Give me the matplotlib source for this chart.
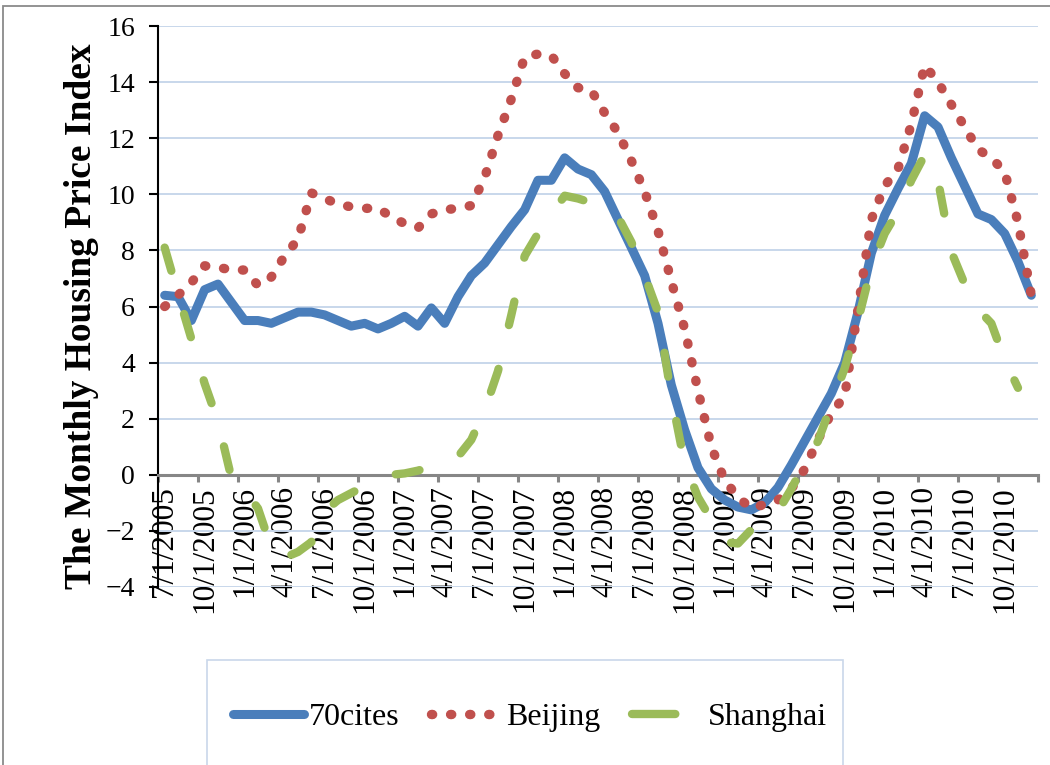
import numpy as np
import matplotlib.pyplot as plt
from matplotlib.patches import Rectangle
from matplotlib.lines import Line2D

# category tick labels (every 3rd month)
tick_labels = ["7/1/2005", "10/1/2005", "1/1/2006", "4/1/2006", "7/1/2006", "10/1/2006",
               "1/1/2007", "4/1/2007", "7/1/2007", "10/1/2007", "1/1/2008", "4/1/2008",
               "7/1/2008", "10/1/2008", "1/1/2009", "4/1/2009", "7/1/2009", "10/1/2009",
               "1/1/2010", "4/1/2010", "7/1/2010", "10/1/2010"]

# monthly values, 7/2005 .. 12/2010
cities70 = [6.4, 6.35, 5.5, 6.6, 6.8, 6.15, 5.5, 5.5, 5.4, 5.6,
            5.8, 5.8, 5.7, 5.5, 5.3, 5.4, 5.2, 5.4, 5.65, 5.3,
            5.95, 5.4, 6.35, 7.1, 7.55, 8.2, 8.85, 9.45, 10.5, 10.5,
            11.3, 10.9, 10.7, 10.1, 9.1, 8.1, 7.1, 5.4, 3.2, 1.6,
            0.25, -0.5, -0.9, -1.15, -1.25, -1.0, -0.45, 0.35, 1.2, 2.05,
            2.9, 4.0, 5.8, 7.9, 9.25, 10.2, 11.1, 12.8, 12.4, 11.3,
            10.3, 9.3, 9.1, 8.6, 7.6, 6.4]

beijing = [6.0, 6.4, 6.85, 7.45, 7.4, 7.3, 7.3, 6.75, 7.05, 7.8,
           8.4, 10.05, 9.85, 9.65, 9.55, 9.5, 9.5, 9.2, 8.95, 8.8,
           9.3, 9.45, 9.5, 9.6, 10.6, 12.1, 13.4, 14.9, 15.0, 14.95,
           14.3, 13.8, 13.7, 12.9, 12.2, 11.2, 10.1, 8.7, 6.9, 5.2,
           3.0, 1.0, -0.2, -0.8, -1.2, -1.05, -0.9, -0.5, 0.2, 1.25,
           2.2, 2.8, 5.9, 9.1, 10.3, 10.9, 12.5, 14.6, 14.0, 13.2,
           12.4, 11.6, 11.3, 10.8, 9.0, 6.4]

shanghai = [8.1, 6.45, 4.85, 3.25, 1.9, -0.1, -0.55, -1.2, -2.6, -2.95,
            -2.75, -2.4, -1.3, -0.9, -0.65, -0.4, -0.2, 0.0, 0.05, 0.15,
            0.3, 0.45, 0.65, 1.25, 2.3, 3.7, 5.7, 7.8, 8.6, 9.3,
            9.95, 9.85, 9.7, 9.5, 9.2, 8.3, 7.1, 5.8, 2.8, 0.4,
            -0.8, -1.6, -2.4, -2.45, -1.95, -1.6, -1.3, -0.5, 0.4, 1.2,
            2.5, 3.8, 5.5, 7.4, 8.6, 9.4, 10.5, 11.4, 10.5, 7.95,
            6.8, 5.9, 5.4, 4.1, 3.1]

plt.rcParams['font.family'] = ['Liberation Serif', 'DejaVu Serif']

BLUE, RED, GREEN = '#4a7ebb', '#c0504d', '#9bbb59'
DOTS = (0, (0.12, 1.9))

W, H = 1050, 765
fig = plt.figure(figsize=(W / 100, H / 100), dpi=100)
ax = fig.add_axes([158 / W, 1 - 587 / H, 880 / W, 561 / H])

x70 = np.arange(len(cities70))
xbj = np.arange(len(beijing))
xsh = np.arange(len(shanghai))

ax.plot(x70, cities70, color=BLUE, lw=6.5, solid_joinstyle='round',
        solid_capstyle='round', zorder=3)
ax.plot(xbj, beijing, color=RED, lw=6.8, linestyle=DOTS,
        dash_capstyle='round', zorder=4)
ax.plot(xsh, shanghai, color=GREEN, lw=6.0, linestyle=(0, (2.9, 5.4)),
        dash_capstyle='round', zorder=5)

ax.set_xlim(-0.5, len(cities70) - 0.5)
ax.set_ylim(-4, 16)

# y axis
ax.set_yticks(range(-4, 17, 2))
ax.grid(axis='y', color='#c8d7eb', lw=1.4)
ax.set_axisbelow(True)
ax.tick_params(axis='y', direction='out', length=6.5, width=1.5, color='black',
               labelsize=20, pad=10)

# x axis at zero, ticks between categories, labels on categories
ax.spines['top'].set_visible(False)
ax.spines['right'].set_visible(False)
ax.spines['left'].set_color('black')
ax.spines['left'].set_linewidth(1.5)
ax.spines['bottom'].set_position(('data', 0))
ax.spines['bottom'].set_color('#868686')
ax.spines['bottom'].set_linewidth(2.2)

ax.set_xticks(np.arange(-0.5, len(cities70), 3))
ax.set_xticklabels([])
ax.set_xticks(np.arange(0, len(cities70), 3), minor=True)
ax.set_xticklabels(tick_labels, minor=True, rotation=90)
ax.tick_params(axis='x', which='major', direction='out', length=5, width=2.2,
               color='#868686')
ax.tick_params(axis='x', which='minor', length=0, labelsize=22.5, pad=8)

fig.text(82 / W, 1 - 316 / H, 'The Monthly Housing Price Index', rotation=90,
         ha='center', va='center', fontsize=27, fontweight='bold')

# legend
handles = [
    Line2D([], [], color=BLUE, lw=6.5, solid_capstyle='round'),
    Line2D([], [], color=RED, lw=6.8, linestyle=DOTS, dash_capstyle='round'),
    Line2D([], [], color=GREEN, lw=6.0, linestyle=(0, (5.2, 6.0)), dash_capstyle='round'),
]
fig.legend(handles, ['70cites', 'Beijing', 'Shanghai'], loc='center',
           bbox_to_anchor=(530 / W, 1 - 717 / H), ncol=3, frameon=False,
           fontsize=23, handlelength=2.2, handletextpad=0.15, columnspacing=1.0)
fig.patches.append(Rectangle((207 / W, -0.05), 636 / W, 0.05 + 105 / H, fill=False,
                             edgecolor='#c9d7ea', lw=1.2, transform=fig.transFigure))

# outer chart border
fig.patches.append(Rectangle((3 / W, -0.05), 1.1, 1 - 6 / H + 0.05, fill=False,
                             edgecolor='#8a8a8a', lw=1.3, transform=fig.transFigure))

fig.savefig('out.png', dpi=100)
